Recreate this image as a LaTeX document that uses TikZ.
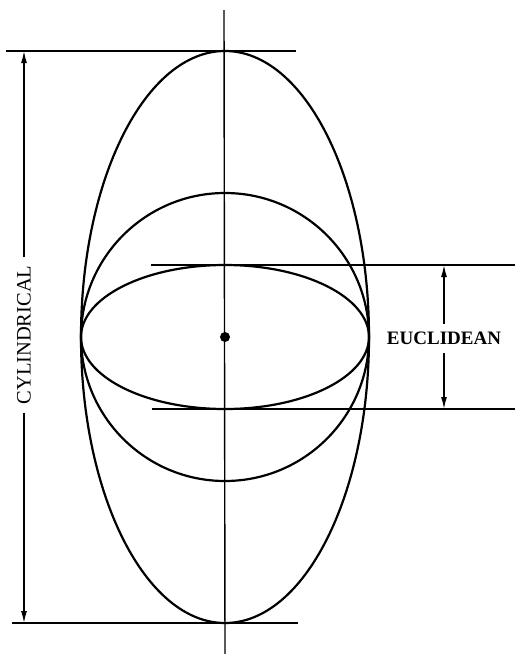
\documentclass[tikz,border=0pt]{standalone}
\usepackage{fontspec}
\setmainfont{Liberation Serif}
\usetikzlibrary{arrows.meta}
\begin{document}
\begin{tikzpicture}[x=1pt,y=-1pt,
  thinline/.style={line width=1.4pt},
  curve/.style={line width=2.2pt},
  dimarrow/.style={line width=1.4pt,-{Latex[length=12pt,width=6pt]}},
  lbl/.style={inner xsep=0pt, inner ysep=0pt, font=\fontsize{19}{19}\selectfont}]
\useasboundingbox (0,0) rectangle (516,654);
\coordinate (O) at (225,337);
% axis
\coordinate (axT) at (224,10);
\coordinate (axB) at (225,654);
\draw[thinline] (axT) -- (axB);
% ellipses and circle
\draw[curve] (O) ellipse [x radius=144, y radius=286];
\draw[curve] (O) circle [radius=144];
\draw[curve] (O) ellipse [x radius=144, y radius=72];
\fill (O) circle [radius=5];
% horizontal tangent lines
\coordinate (tL) at (6,51);   \coordinate (tR) at (296,51);
\coordinate (bL) at (12,623); \coordinate (bR) at (298,623);
\coordinate (eTL) at (151,265); \coordinate (eTR) at (515,265);
\coordinate (eBL) at (152,409); \coordinate (eBR) at (515,409);
\draw[thinline] (tL) -- (tR);
\draw[thinline] (bL) -- (bR);
\draw[thinline] (eTL) -- (eTR);
\draw[thinline] (eBL) -- (eBR);
% cylindrical dimension
\coordinate (cylTop) at (24,51);
\coordinate (cylBot) at (24,623);
\node[lbl, rotate=90, inner xsep=8pt, font=\fontsize{20.5}{20.5}\selectfont] (cyl) at (24,335) {CYLINDRICAL};
\draw[dimarrow] (cyl) -- (cylTop);
\draw[dimarrow] (cyl) -- (cylBot);
% euclidean dimension
\coordinate (euTop) at (444,265);
\coordinate (euBot) at (444,409);
\node[lbl, inner ysep=8pt, font=\fontsize{19}{19}\selectfont\bfseries] (eu) at (444,338.5) {EUCLIDEAN};
\draw[dimarrow] (eu) -- (euTop);
\draw[dimarrow] (eu) -- (euBot);
\end{tikzpicture}
\end{document}
